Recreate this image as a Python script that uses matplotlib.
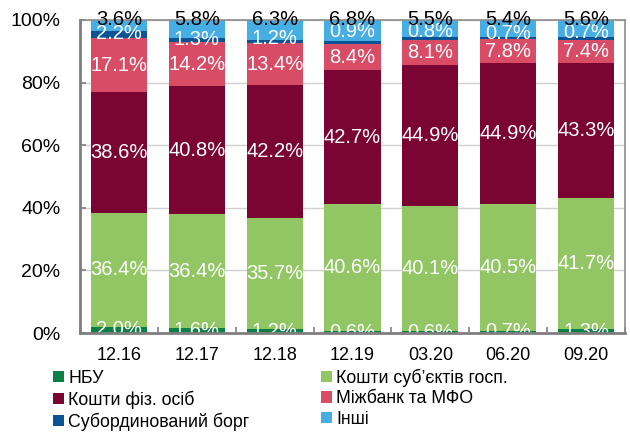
import numpy as np
import matplotlib
matplotlib.use("Agg")
import matplotlib.pyplot as plt
from matplotlib.patches import Patch

plt.rcParams['font.family'] = ['Liberation Sans', 'DejaVu Sans']

periods = ['12.16', '12.17', '12.18', '12.19', '03.20', '06.20', '09.20']
series = ['НБУ', 'Кошти суб’єктів госп.', 'Кошти фіз. осіб',
          'Міжбанк та МФО', 'Субординований борг', 'Інші']

nbu = [2.0, 1.6, 1.2, 0.6, 0.6, 0.7, 1.3]
corp = [36.4, 36.4, 35.7, 40.6, 40.1, 40.5, 41.7]
retail = [38.6, 40.8, 42.2, 42.7, 44.9, 44.9, 43.3]
interbank = [17.1, 14.2, 13.4, 8.4, 8.1, 7.8, 7.4]
subdebt = [2.2, 1.3, 1.2, 0.9, 0.8, 0.7, 0.7]
other = [3.6, 5.8, 6.3, 6.8, 5.5, 5.4, 5.6]

colors = ['#0b7f46', '#92c665', '#7a0532', '#d94c66', '#0b5394', '#47aee4']
# small manual nudges of the subordinated-debt labels (as in the original)
sub_nudge = [0.3, 0.1, 0.9, 3.5, 2.1, 1.5, 1.8]

data = np.array([nbu, corp, retail, interbank, subdebt, other])
x = np.arange(len(periods))

fig = plt.figure(figsize=(6.3, 4.32), dpi=100)
ax = fig.add_axes([0.127, 0.229, 0.865, 0.725])

ax.set_axisbelow(True)
ax.yaxis.grid(True, color='#d0d0d0', linewidth=1)

bottom = np.zeros(len(periods))
for i, vals in enumerate(data):
    ax.bar(x, vals, 0.72, bottom=bottom, color=colors[i], linewidth=0, zorder=2)
    for j, v in enumerate(vals):
        if i == 5:
            ax.text(x[j], 100.2, f'{v:.1f}%', ha='center', va='center',
                    fontsize=14.5, color='black', zorder=4, clip_on=False)
        else:
            y = bottom[j] + v / 2
            if i == 4:
                y += sub_nudge[j]
            ax.text(x[j], y, f'{v:.1f}%', ha='center', va='center',
                    fontsize=14.5, color='white', zorder=4)
    bottom += vals

ax.set_xlim(-0.5, len(periods) - 0.5)
ax.set_ylim(0, 100)
ax.set_yticks(np.arange(0, 101, 20))
ax.set_yticklabels([f'{t}%' for t in range(0, 101, 20)], fontsize=14)
ax.set_xticks(x)
ax.set_xticklabels(periods, fontsize=13)
ax.set_xticks(np.arange(-0.5, len(periods), 1), minor=True)
ax.tick_params(axis='x', which='major', length=0, pad=10)
ax.tick_params(axis='x', which='minor', length=4, direction='in', color='#808080', width=1.2)
ax.tick_params(axis='y', length=4, direction='in', color='#808080', width=1.2, pad=14)

for side in ['left', 'bottom']:
    ax.spines[side].set_color('#7f7f7f')
    ax.spines[side].set_linewidth(2)
for side in ['top', 'right']:
    ax.spines[side].set_color('#8c8c8c')
    ax.spines[side].set_linewidth(1.2)
ax.spines['bottom'].set_zorder(5)

order = [0, 2, 4, 1, 3, 5]
handles = [Patch(facecolor=colors[k], edgecolor='none') for k in order]
labels = [series[k] for k in order]
fig.legend(handles, labels, ncol=2, loc='upper left', bbox_to_anchor=(0.084, 0.147),
           frameon=False, fontsize=12.8, handlelength=0.62, handleheight=0.62,
           handletextpad=0.25, columnspacing=4.0, labelspacing=0.2,
           borderpad=0, borderaxespad=0)

fig.savefig('out.png', dpi=100)
